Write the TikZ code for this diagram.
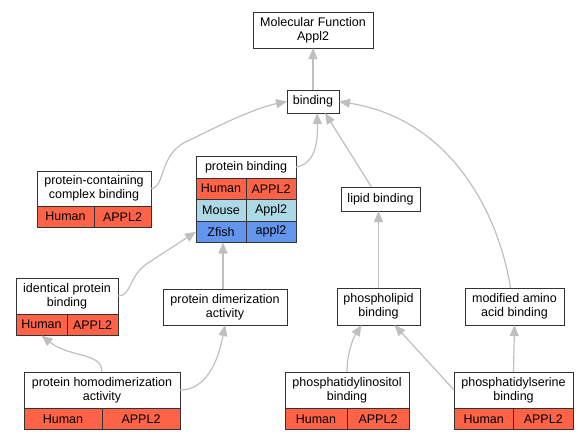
\documentclass[tikz,border=0pt]{standalone}
\usepackage{fontspec}
\setmainfont{Liberation Sans}
\usetikzlibrary{arrows.meta,positioning}
\definecolor{tomato}{HTML}{FF6347}
\definecolor{lightblue}{HTML}{ADD8E6}
\definecolor{cornflower}{HTML}{6495ED}

\begin{document}
\begin{tikzpicture}[x=1pt,y=-1pt,
    term/.style={draw=black!80,line width=1pt,fill=white,align=center,inner sep=1pt,outer sep=0pt,font=\fontsize{12.5}{14}\selectfont},
    cell/.style={term,minimum height=21.5pt},
    human/.style={cell,fill=tomato},
    mouse/.style={cell,fill=lightblue},
    zfish/.style={cell,fill=cornflower},
    isa/.style={draw=black!25,line width=1.2pt,-{Triangle[length=11pt,width=9pt]}}]
    \useasboundingbox (0,0) rectangle (588,440);
    % GO terms
    \node[term,minimum width=120pt,minimum height=36pt] (mf)      at (313,30)      {Molecular Function\\Appl2};
    \node[term,minimum width=52pt,minimum height=23pt]  (binding) at (313,101.5)   {binding};
    \node[term,minimum width=114pt,minimum height=35pt] (pcc)     at (94,188.5)    {protein-containing\\complex binding};
    \node[human,minimum width=57pt] (pcc1) [below right=0pt of pcc.south west] {Human};
    \node[human,minimum width=57pt] (pcc2) [right=0pt of pcc1.east]            {APPL2};
    \node[term,minimum width=100pt,minimum height=22pt] (pb)      at (246,167)     {protein binding};
    \node[human,minimum width=50pt] (pbh1) [below right=0pt of pb.south west]  {Human};
    \node[human,minimum width=50pt] (pbh2) [right=0pt of pbh1.east]           {APPL2};
    \node[mouse,minimum width=50pt] (pbm1) [below right=0pt of pbh1.south west] {Mouse};
    \node[mouse,minimum width=50pt] (pbm2) [right=0pt of pbm1.east]           {Appl2};
    \node[zfish,minimum width=50pt] (pbz1) [below right=0pt of pbm1.south west] {Zfish};
    \node[zfish,minimum width=50pt] (pbz2) [right=0pt of pbz1.east]           {appl2};
    \node[term,minimum width=79pt,minimum height=24pt]  (lipid)   at (380.5,199)   {lipid binding};
    \node[term,minimum width=102pt,minimum height=36pt] (ipb)     at (67,296)      {identical protein\\binding};
    \node[human,minimum width=51pt] (ipb1) [below right=0pt of ipb.south west] {Human};
    \node[human,minimum width=51pt] (ipb2) [right=0pt of ipb1.east]            {APPL2};
    \node[term,minimum width=124pt,minimum height=36pt] (pda)     at (225,307)     {protein dimerization\\activity};
    \node[term,minimum width=83pt,minimum height=37pt]  (pl)      at (378.5,306.5) {phospholipid\\binding};
    \node[term,minimum width=99pt,minimum height=37pt]  (maa)     at (514.5,306.5) {modified amino\\acid binding};
    \node[term,minimum width=156pt,minimum height=36pt] (phd)     at (102,390)     {protein homodimerization\\activity};
    \node[human,minimum width=78pt] (phd1) [below right=0pt of phd.south west] {Human};
    \node[human,minimum width=78pt] (phd2) [right=0pt of phd1.east]            {APPL2};
    \node[term,minimum width=124pt,minimum height=36pt] (pi)      at (347,390)     {phosphatidylinositol\\binding};
    \node[human,minimum width=62pt] (pi1) [below right=0pt of pi.south west]   {Human};
    \node[human,minimum width=62pt] (pi2) [right=0pt of pi1.east]              {APPL2};
    \node[term,minimum width=119pt,minimum height=36pt] (ps)      at (513.5,390)   {phosphatidylserine\\binding};
    \node[human,minimum width=59.5pt] (ps1) [below right=0pt of ps.south west] {Human};
    \node[human,minimum width=59.5pt] (ps2) [right=0pt of ps1.east]            {APPL2};
    % is_a links
    \draw[isa] (binding) -- (mf);
    \draw[isa] (pcc.east) .. controls (166,188) and (158,152) .. (190,140)
                          .. controls (220,125) and (255,108) .. (binding.west);
    \draw[isa] (pb.east) .. controls (316,164) and (318,140) .. ([xshift=4pt]binding.south);
    \draw[isa] ([xshift=-9pt]lipid.north) -- ([xshift=12pt]binding.south);
    \draw[isa] ([xshift=-4pt]maa.north) .. controls (500,220) and (455,120) .. (binding.east);
    \draw[isa] (ipb.east) .. controls (132,296) and (128,276) .. (148,263) -- (pbz1.west);
    \draw[isa] ([xshift=-2pt]pda.north) -- ([xshift=-2pt]pda.north |- pbz1.south);
    \draw[isa] (phd.north) .. controls (102,352) and (70,358) .. (ipb1.south);
    \draw[isa] (phd.east) .. controls (206,390) and (218,362) .. (pda.south);
    \draw[isa] (pl.north) -- (pl.north |- lipid.south);
    \draw[isa] (pi.north) .. controls (347,355) and (352,340) .. ([xshift=-17pt]pl.south);
    \draw[isa] (ps.west) -- ([xshift=16pt]pl.south);
    \draw[isa] (ps.north) -- (maa.south);
\end{tikzpicture}
\end{document}
